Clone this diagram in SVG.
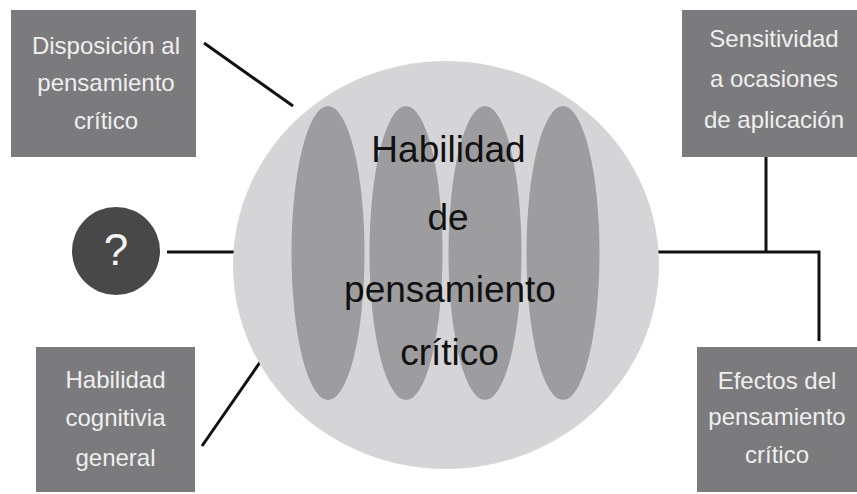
<svg xmlns="http://www.w3.org/2000/svg" width="857" height="494" viewBox="0 0 857 494">
<style>
.box{fill:#7b7b7d}
.bt{font-family:"Liberation Sans",Arial,sans-serif;font-size:24px;fill:#efefef;text-anchor:middle}
.ct{font-family:"Liberation Sans",Arial,sans-serif;font-size:37px;fill:#111;text-anchor:middle}
.lane{fill:#9d9d9f}
.conn{stroke:#111;stroke-width:3;fill:none}
</style>
<rect width="857" height="494" fill="#fff"/>
<g id="connectors">
<line class="conn" x1="204" y1="43" x2="293" y2="106"/>
<line class="conn" x1="167" y1="252" x2="236" y2="252"/>
<line class="conn" x1="202" y1="446" x2="263" y2="358"/>
<polyline class="conn" points="656,252 819,252 819,341"/>
<line class="conn" x1="766" y1="157" x2="766" y2="252"/>
</g>
<g id="center">
<ellipse cx="446" cy="265" rx="213" ry="204" fill="#d5d5d7"/>
<ellipse class="lane" cx="328" cy="253" rx="36.5" ry="147"/>
<ellipse class="lane" cx="406" cy="253" rx="36.5" ry="147"/>
<ellipse class="lane" cx="485" cy="253" rx="36.5" ry="147"/>
<ellipse class="lane" cx="563" cy="253" rx="36.5" ry="147"/>
<text class="ct" x="448.5" y="162">Habilidad</text>
<text class="ct" x="448" y="230">de</text>
<text class="ct" x="450" y="302">pensamiento</text>
<text class="ct" x="449.5" y="365">crítico</text>
</g>
<g id="disposicion">
<rect class="box" x="11" y="10" width="185" height="147"/>
<text class="bt" x="106" y="54">Disposición al</text>
<text class="bt" x="106" y="91">pensamiento</text>
<text class="bt" x="106" y="129">crítico</text>
</g>
<g id="sensitividad">
<rect class="box" x="682" y="10" width="175" height="147"/>
<text class="bt" x="774" y="47">Sensitividad</text>
<text class="bt" x="774" y="87">a ocasiones</text>
<text class="bt" x="774" y="128">de aplicación</text>
</g>
<g id="pregunta">
<circle cx="116" cy="251" r="44" fill="#484848"/>
<text x="116" y="265" font-family="Liberation Sans,Arial,sans-serif" font-size="44" fill="#f4f4f4" text-anchor="middle">?</text>
</g>
<g id="habilidad-cognitiva">
<rect class="box" x="36" y="347" width="159" height="145"/>
<text class="bt" x="115.5" y="388">Habilidad</text>
<text class="bt" x="115.5" y="426">cognitivia</text>
<text class="bt" x="115.5" y="466">general</text>
</g>
<g id="efectos">
<rect class="box" x="697" y="347" width="160" height="145"/>
<text class="bt" x="777" y="389">Efectos del</text>
<text class="bt" x="777" y="425">pensamiento</text>
<text class="bt" x="777" y="463">crítico</text>
</g>
</svg>
